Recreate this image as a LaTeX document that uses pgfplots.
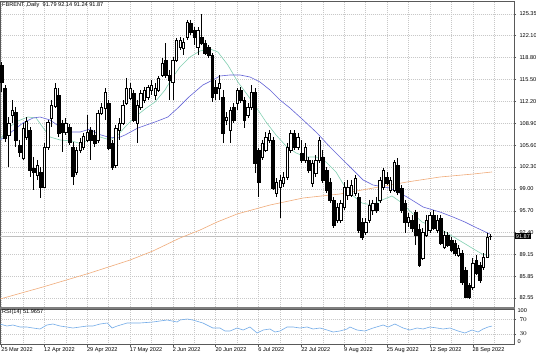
\documentclass[border=0pt]{standalone}
\usepackage{pgfplots}
\pgfplotsset{compat=1.18}
\usepackage{pgfplotstable}
\usepackage{fontspec}
\setmainfont{Liberation Sans}
\definecolor{gridc}{RGB}{200,200,200}
\definecolor{maGreen}{RGB}{130,208,178}
\definecolor{maBlue}{RGB}{100,100,215}
\definecolor{maOrange}{RGB}{240,172,122}
\definecolor{rsiBlue}{RGB}{115,172,232}
\pgfdeclareplotmark{nothing}{}

\pgfplotstableread{
i o h l c
0 117.67 118.10 113.60 115.11
1 114.20 114.65 106.06 106.67
2 107.12 109.83 102.30 108.93
3 110.13 112.39 108.93 110.89
4 110.58 111.34 105.31 106.37
5 105.61 106.37 103.81 104.56
6 103.65 108.93 103.35 108.17
7 106.82 109.83 106.37 109.23
8 107.87 108.32 100.79 101.85
9 102.15 103.81 98.83 101.55
10 101.09 103.35 100.34 102.60
11 101.55 102.30 97.63 99.28
12 99.28 105.91 99.13 105.31
13 105.31 109.38 104.86 109.08
14 109.68 112.39 108.32 111.64
15 111.49 114.95 111.19 114.20
16 113.15 114.20 106.82 107.42
17 108.93 109.38 104.56 107.57
18 107.57 109.68 107.12 108.93
19 108.32 108.78 105.61 106.06
20 105.31 106.06 99.58 100.94
21 101.55 105.31 101.09 104.86
22 104.86 106.67 104.41 106.06
23 105.31 107.42 104.86 106.97
24 106.37 110.13 106.06 107.57
25 107.87 108.32 103.35 106.37
26 107.12 107.87 105.31 105.91
27 106.37 110.89 105.91 110.43
28 110.43 111.94 110.13 111.34
29 111.19 114.20 109.38 113.60
30 111.94 112.39 104.86 105.16
31 105.91 106.37 101.85 102.30
32 102.60 108.63 102.15 108.17
33 107.87 109.68 106.37 108.93
34 108.93 112.39 108.63 111.64
35 111.94 115.71 111.64 114.20
36 112.70 115.00 112.39 114.20
37 113.45 113.90 109.08 109.38
38 108.93 112.39 105.91 111.64
39 111.34 113.90 110.89 113.45
40 112.39 114.35 111.94 113.90
41 112.85 114.65 112.39 114.35
42 113.90 115.41 113.15 114.65
43 113.15 114.95 112.39 114.20
44 113.90 116.01 113.60 115.71
45 116.16 118.72 115.86 117.97
46 118.42 120.98 115.71 116.16
47 116.16 116.91 112.39 115.41
48 115.11 118.87 112.39 118.42
49 118.42 121.74 118.12 121.43
50 120.38 121.89 119.93 121.43
51 120.23 121.74 119.17 121.13
52 121.89 124.45 121.43 124.15
53 124.00 124.45 122.19 122.64
54 122.94 123.39 120.68 121.89
55 120.38 123.39 119.17 122.94
56 121.89 125.35 120.68 120.98
57 120.98 121.43 119.17 119.47
58 120.38 120.68 118.72 119.17
59 119.17 119.47 112.09 112.85
60 114.35 115.41 112.39 113.45
61 114.20 116.16 112.39 114.95
62 112.85 113.90 105.91 107.42
63 109.38 110.58 108.63 109.83
64 107.87 111.34 105.91 110.89
65 111.34 111.94 108.93 109.38
66 111.94 114.20 110.89 113.90
67 113.90 114.35 111.94 112.39
68 112.39 112.85 108.17 109.38
69 110.13 111.94 109.68 111.34
70 111.34 114.65 110.89 113.60
71 113.60 114.20 101.39 102.90
72 104.86 105.16 97.78 100.04
73 103.81 106.37 103.35 105.91
74 104.86 107.57 104.56 106.82
75 106.37 107.87 105.91 107.42
76 106.37 106.82 98.83 99.13
77 98.38 100.64 97.78 100.04
78 99.28 101.09 94.61 100.34
79 99.89 101.55 99.28 100.79
80 100.79 105.91 100.34 105.31
81 104.86 107.87 104.41 107.42
82 107.42 107.87 104.86 105.31
83 105.31 107.42 104.86 106.82
84 104.41 106.37 102.90 103.35
85 103.35 105.91 102.90 105.31
86 103.35 103.81 101.39 101.85
87 99.89 103.35 99.28 102.90
88 101.39 104.11 100.79 103.35
89 103.35 106.82 102.90 106.37
90 103.81 104.86 99.89 100.34
91 101.85 102.30 98.38 98.83
92 100.04 100.64 96.87 97.33
93 97.33 97.78 93.10 93.56
94 94.31 96.87 93.86 96.27
95 94.31 97.33 93.86 96.87
96 96.27 100.04 95.82 99.28
97 98.08 100.34 97.33 99.28
98 98.08 100.34 97.78 99.58
99 98.38 101.09 97.93 100.64
100 97.78 98.38 92.35 92.80
101 94.01 94.61 91.30 91.75
102 92.50 94.61 92.05 94.01
103 94.31 97.33 93.86 96.57
104 95.82 97.33 95.07 96.87
105 96.87 97.78 95.37 95.82
106 97.33 100.79 96.87 100.34
107 99.28 102.15 98.83 101.85
108 100.79 101.55 99.58 99.89
109 98.83 100.79 98.38 100.34
110 98.83 103.35 98.53 103.05
111 102.60 103.65 98.08 98.53
112 99.13 99.58 95.37 95.82
113 96.87 97.33 92.35 94.01
114 94.01 95.37 93.26 94.76
115 94.31 95.07 92.50 93.10
116 95.52 95.82 90.55 92.00
117 93.00 93.71 87.23 87.53
118 88.59 93.10 88.28 92.50
119 92.05 95.07 91.75 94.31
120 92.80 95.52 92.35 95.07
121 95.07 95.82 92.80 93.10
122 92.80 95.07 92.35 94.31
123 94.61 95.07 90.55 90.85
124 90.24 92.65 89.94 92.05
125 92.05 92.50 90.24 90.55
126 91.30 91.75 89.49 89.79
127 90.85 91.30 88.89 89.34
128 89.04 90.55 88.74 90.09
129 89.34 89.79 84.52 84.97
130 86.78 87.23 82.56 82.71
131 84.52 84.82 82.41 82.71
132 84.22 88.59 83.77 87.83
133 88.28 89.04 86.03 86.33
134 87.53 87.98 84.82 85.27
135 87.23 89.34 86.78 88.74
136 88.74 92.35 88.59 91.75
137 91.79 92.14 91.24 91.87
}\candles

\pgfplotstableread{
x p
-0.4 106.37
1.8 108.17
4.6 109.23
7.4 109.83
9.7 109.68
11.3 108.48
13.6 106.82
16.4 106.37
19.7 106.22
22.5 105.76
24.8 106.67
27.6 106.82
30.4 106.37
32.6 107.12
34.6 108.32
37.4 109.83
40.2 111.04
43.0 112.09
45.8 113.90
47.8 115.71
50.0 117.37
52.8 118.87
55.6 119.78
58.4 120.08
60.6 119.63
63.4 117.67
66.2 115.11
68.5 113.45
71.3 111.34
74.1 109.08
76.9 107.12
79.7 105.46
82.5 104.41
85.3 103.81
88.1 103.81
90.9 103.05
93.7 101.55
95.9 99.58
98.2 98.08
101.0 96.87
103.8 96.57
106.6 97.33
109.4 97.93
112.2 96.87
115.0 95.37
117.8 94.01
120.6 93.41
123.4 92.80
126.2 91.90
129.0 91.00
131.8 90.09
134.6 89.19
136.8 88.89
}\maG

\pgfplotstableread{
x p
-0.4 106.37
2.4 107.42
6.0 108.93
8.8 109.68
10.8 109.83
13.6 109.38
16.4 108.32
19.2 107.57
22.0 107.57
24.8 108.02
27.0 107.27
29.8 106.82
32.6 106.67
34.6 107.12
38.2 108.17
43.0 109.08
46.6 109.83
49.4 111.19
52.5 112.85
56.4 114.65
59.2 115.41
61.2 116.01
64.0 116.16
66.8 116.16
69.6 115.86
72.4 115.11
75.2 113.90
78.0 112.39
80.8 111.19
84.5 109.38
88.4 107.42
92.0 105.31
94.8 103.81
98.5 101.85
101.3 100.34
104.1 99.58
108.8 99.13
113.6 97.78
118.1 96.27
122.8 95.52
126.5 94.76
129.8 94.01
132.6 93.26
136.8 92.20
}\maB

\pgfplotstableread{
x p
-0.4 82.41
11.6 84.22
24.8 86.33
36.0 88.28
42.4 89.64
50.0 91.60
55.6 92.80
60.4 94.01
66.0 95.22
75.2 96.57
84.5 97.63
94.8 98.23
104.1 99.13
113.6 100.04
122.8 100.79
132.1 101.24
137.4 101.55
}\maO

\pgfplotstableread{
x r
-0.4 57.7
1.5 52.1
3.2 54.9
5.2 49.3
7.1 49.3
8.8 46.5
10.8 43.7
12.7 54.9
14.4 57.7
16.4 52.1
18.3 49.3
20.0 46.5
22.0 49.3
24.0 52.1
25.6 52.1
27.6 57.7
29.6 60.6
31.0 46.5
32.4 52.1
35.2 60.6
38.8 60.6
42.4 63.4
46.4 69.0
49.2 63.4
50.0 69.0
52.0 71.8
53.6 69.0
56.4 60.6
59.2 46.5
61.2 46.5
62.6 38.0
64.0 38.0
66.0 46.5
67.7 40.8
69.6 49.3
71.6 32.4
73.3 40.8
75.2 43.7
76.6 35.2
78.0 38.0
80.0 49.3
81.7 49.3
83.6 46.5
85.6 49.3
87.3 43.7
89.2 46.5
91.2 40.8
92.9 35.2
94.8 38.0
96.8 43.7
97.6 49.3
99.6 40.8
101.8 38.0
104.1 46.5
106.9 54.9
108.3 49.3
110.2 57.7
112.5 46.5
114.4 40.8
116.4 46.5
118.1 43.7
120.0 49.3
122.0 46.5
123.7 43.7
125.6 46.5
127.9 38.0
129.8 32.4
131.8 40.8
133.5 35.2
134.9 43.7
136.3 49.3
137.4 51.97
}\rsi

\begin{document}
\begin{tikzpicture}[font=\fontsize{5.6}{6.7}\selectfont]
\useasboundingbox (0,0) rectangle (536pt,-354pt);
\fill[white] (0,0) rectangle (536pt,-354pt);
\begin{axis}[
  at={(0.5pt,-1pt)}, anchor=north west,
  scale only axis, width=513.5pt, height=306pt,
  xmin=-0.28, xmax=143.56, ymin=81.204, ymax=127.309,
  axis line style={draw=black!65, line width=0.5pt},
  xtick={0,6,...,138}, xticklabels={}, xtick style={draw=none},
  ytick={82.55,85.85,89.15,92.40,95.70,99.00,102.30,105.60,108.90,112.20,115.50,118.80,122.10,125.35},
  ytick pos=right, yticklabel pos=right,
  yticklabel style={/pgf/number format/.cd, fixed, fixed zerofill, precision=2, assume math mode=true},
  tick label style={font=\fontsize{5.6}{6.7}\selectfont, black},
  tick align=outside, major tick length=2pt,
  ytick style={black!65, line width=0.4pt},
  grid=major, major grid style={gridc, dash pattern=on 0.8pt off 1.2pt, line width=0.45pt},
  clip=true,
]
\addplot[gray!50, line width=0.4pt, forget plot] coordinates {(-0.28,91.87) (143.56,91.87)};
\addplot[maOrange, line width=0.6pt, forget plot] table[x=x, y=p] {\maO};
\addplot[scatter, only marks, mark=nothing, forget plot,
  visualization depends on={\thisrow{o} \as \vo},
  visualization depends on={\thisrow{h} \as \vh},
  visualization depends on={\thisrow{l} \as \vl},
  visualization depends on={\thisrow{c} \as \vc},
  scatter/@pre marker code/.code={%
    \pgfmathsetmacro\oc{\vo-\vc}%
    \pgfmathsetmacro\hc{\vh-\vc}%
    \pgfmathsetmacro\lc{\vl-\vc}%
    \draw[black, line width=0.6pt] (axis direction cs:0,\hc) -- (axis direction cs:0,\lc);%
    \ifdim\oc pt>0.02pt
      \fill[black] (axis direction cs:-0.39,\oc) rectangle (axis direction cs:0.39,0);%
    \else
      \ifdim\oc pt<-0.02pt
        \filldraw[fill=white, draw=black, line width=0.55pt] (axis direction cs:-0.32,\oc) rectangle (axis direction cs:0.32,0);%
      \else
        \draw[black, line width=0.6pt] (axis direction cs:-0.39,0) -- (axis direction cs:0.39,0);%
      \fi
    \fi
  },
  scatter/@post marker code/.code={},
] table[x=i, y=c] {\candles};
\addplot[maGreen, line width=0.6pt, forget plot] table[x=x, y=p] {\maG};
\addplot[maBlue, line width=0.6pt, forget plot] table[x=x, y=p] {\maB};
\end{axis}

\begin{axis}[
  at={(0.5pt,-309pt)}, anchor=north west,
  scale only axis, width=513.5pt, height=35.5pt,
  xmin=-0.28, xmax=143.56, ymin=0, ymax=100,
  axis line style={draw=black!65, line width=0.5pt},
  xtick={0,12,...,132},
  xticklabels={25 Mar 2022,12 Apr 2022,29 Apr 2022,17 May 2022,2 Jun 2022,20 Jun 2022,6 Jul 2022,22 Jul 2022,9 Aug 2022,25 Aug 2022,12 Sep 2022,28 Sep 2022},
  minor xtick={6,18,...,138},
  xtick pos=bottom,
  xticklabel style={anchor=north west, inner sep=0pt, xshift=-0.3pt, yshift=-0.5pt},
  ytick={30,70}, ytick pos=right, yticklabel pos=right,
  extra y ticks={7,94.4}, extra y tick labels={0,100},
  extra y tick style={grid=none, major tick length=0pt},
  tick label style={font=\fontsize{5.6}{6.7}\selectfont, black},
  tick align=outside, major tick length=2pt, minor tick length=0pt,
  tick style={black!65, line width=0.4pt},
  xmajorgrids, xminorgrids, ymajorgrids,
  major grid style={gridc, dash pattern=on 0.8pt off 1.2pt, line width=0.45pt},
  minor grid style={gridc, dash pattern=on 0.8pt off 1.2pt, line width=0.45pt},
]
\addplot[rsiBlue, line width=0.6pt, forget plot] table[x=x, y=r] {\rsi};
\end{axis}

\draw[black!50, line width=2pt] (0,-308pt) -- (514.5pt,-308pt);
\node[anchor=west, inner sep=0pt] at (2pt,-5.5pt) {FBRENT.,Daily\ \ 91.79 92.14 91.24 91.87};
\node[anchor=west, inner sep=0pt] at (2pt,-312.5pt) {RSI(14) 51.9657};
\node[anchor=west, fill=black, text=white, inner xsep=1.2pt, inner ysep=1pt] at (514.5pt,-236.2pt) {91.87};
\end{tikzpicture}
\end{document}
